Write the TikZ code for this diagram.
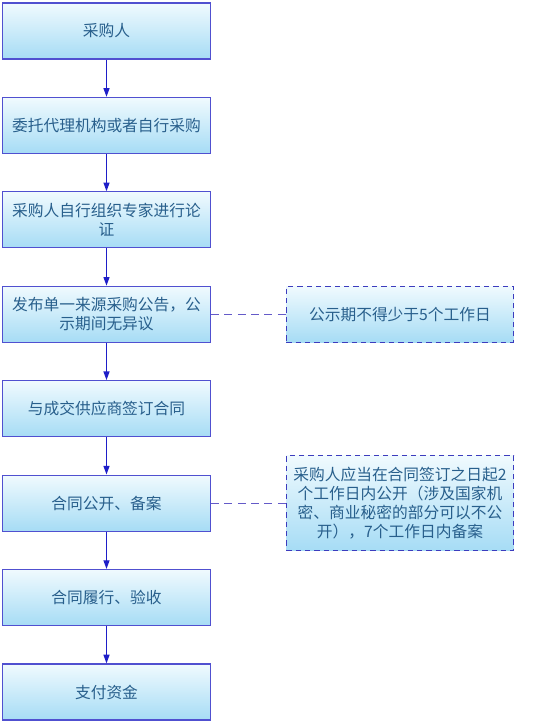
\documentclass[tikz,border=0pt]{standalone}
\usepackage{fontspec}
\setmainfont{Noto Sans CJK SC}
\usetikzlibrary{shapes, arrows.meta, positioning, backgrounds}
\definecolor{boxline}{RGB}{80,80,208}
\definecolor{boxtop}{RGB}{240,250,254}
\definecolor{boxbottom}{RGB}{166,220,245}
\definecolor{boxtext}{RGB}{40,95,140}
\definecolor{arrowblue}{RGB}{30,30,200}
\definecolor{notelink}{RGB}{100,90,200}
\definecolor{noteline}{RGB}{60,60,190}

\begin{document}
\begin{tikzpicture}[node distance=70.82pt, >={Triangle[width=4.5pt,length=6.5pt]},
  box/.style={draw=boxline, line width=0.9pt, top color=boxtop, bottom color=boxbottom, text=boxtext, align=center, minimum width=156pt, minimum height=42pt, inner sep=0pt, font=\fontsize{11.8pt}{14.3pt}\selectfont},
  note/.style={box, draw=noteline, dash pattern=on 4pt off 3pt, minimum width=170.6pt},
  flow/.style={->, draw=arrowblue, line width=0.9pt},
  link/.style={draw=notelink, line width=0.9pt, dash pattern=on 6pt off 4pt}]
\useasboundingbox (0,0) rectangle (399.75pt,-545.25pt);
\node[box] (buyer) at (79.875pt,-23.25pt) {采购人};
\node[box, below of=buyer] (entrust) {委托代理机构或者自行采购};
\node[box, below of=entrust] (expert) {采购人自行组织专家进行论\\证};
\node[box, below of=expert] (notice) {发布单一来源采购公告，公\\示期间无异议};
\node[box, below of=notice] (sign) {与成交供应商签订合同};
\node[box, below of=sign] (open) {合同公开、备案};
\node[box, below of=open] (accept) {合同履行、验收};
\node[box, below of=accept] (pay) {支付资金};
\node[note, right=55.9pt of notice] (period) {公示期不得少于5个工作日};
\node[note, right=55.9pt of open, minimum height=71.25pt] (filing) {采购人应当在合同签订之日起2\\个工作日内公开（涉及国家机\\密、商业秘密的部分可以不公\\开），7个工作日内备案};
\draw[flow] (buyer) -- (entrust);
\draw[flow] (entrust) -- (expert);
\draw[flow] (expert) -- (notice);
\draw[flow] (notice) -- (sign);
\draw[flow] (sign) -- (open);
\draw[flow] (open) -- (accept);
\draw[flow] (accept) -- (pay);
\draw[link] (notice) -- (period);
\draw[link] (open) -- (filing);
\end{tikzpicture}
\end{document}
